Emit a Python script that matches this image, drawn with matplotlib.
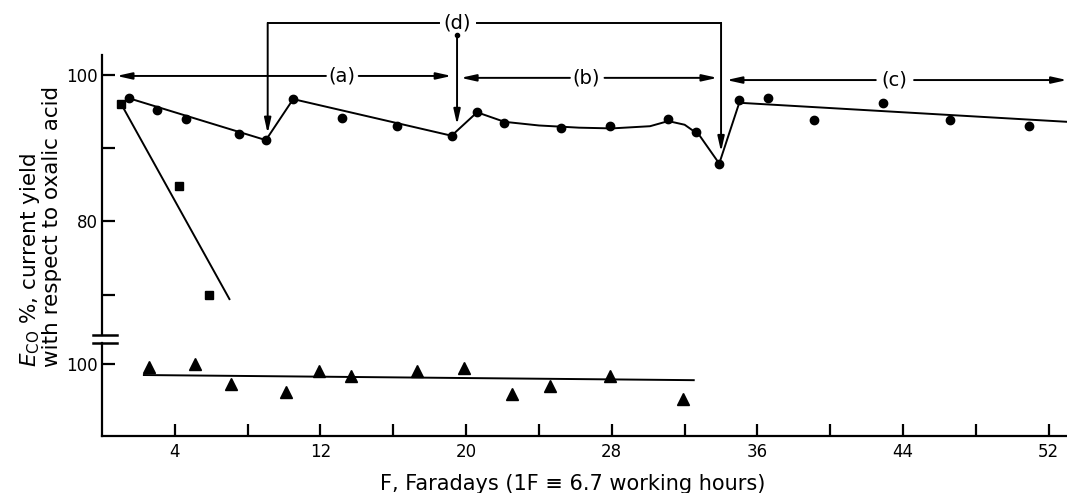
import matplotlib.pyplot as plt
from matplotlib.lines import Line2D

plt.rcParams['font.family'] = ['DejaVu Sans']

# circles (upper panel)
circ_x = [1.5, 3.0, 4.6, 7.5, 9.0, 10.5, 13.2, 16.2, 19.2, 20.6, 22.1, 25.2,
          27.9, 31.1, 32.6, 33.9, 35.0, 36.6, 39.1, 42.9, 46.6, 50.9]
circ_y = [96.8, 95.2, 94.0, 91.9, 91.1, 96.7, 94.1, 93.0, 91.7, 94.9, 93.5, 92.7,
          93.0, 94.0, 92.2, 87.9, 96.6, 96.8, 93.8, 96.2, 93.9, 93.0]
# hand drawn trend through the circles
fit_x = [1.5, 9.0, 10.5, 19.2, 20.6, 22.1, 24.0, 26.2, 28.0, 30.1, 31.1, 32.0, 32.8, 33.9, 35.0, 53.0]
fit_y = [96.8, 91.1, 96.7, 91.7, 94.9, 93.6, 93.1, 92.8, 92.7, 93.0, 93.7, 93.2, 91.8, 87.9, 96.2, 93.6]

# squares (upper panel)
sq_x = [1.06, 4.24, 5.85]
sq_y = [96.0, 84.8, 70.0]
sq_fit_x = [1.06, 7.0]
sq_fit_y = [96.0, 69.4]

# triangles (lower panel)
tri_x = [2.6, 5.1, 7.1, 10.1, 11.9, 13.7, 17.3, 19.9, 22.5, 24.6, 27.9, 31.9]
tri_y = [99.6, 100.0, 97.3, 96.2, 99.1, 98.4, 99.1, 99.4, 95.9, 97.0, 98.3, 95.2]
tri_fit_x = [2.3, 32.5]
tri_fit_y = [98.5, 97.8]

xmaj = [4, 12, 20, 28, 36, 44, 52]
xmin = [8, 16, 24, 32, 40, 48]

fig = plt.figure(figsize=(10.67, 4.93), dpi=100)
L, W = 102 / 1067, 1 - 102 / 1067
ax = fig.add_axes([L, 1 - 335 / 493, W, 280 / 493])
ax2 = fig.add_axes([L, 1 - 436 / 493, W, 93 / 493])

lw_ax = 1.6
for a in (ax, ax2):
    a.set_xlim(0, 53)
    for s in ('top', 'right'):
        a.spines[s].set_visible(False)
    a.spines['left'].set_linewidth(lw_ax)
    a.spines['bottom'].set_linewidth(lw_ax)
    a.tick_params(direction='in', length=9, width=1.6, labelsize=12, pad=3)

ax.spines['bottom'].set_visible(False)
ax.tick_params(axis='x', bottom=False, labelbottom=False)
ax.set_ylim(64.5, 102.72)
ax.set_yticks([70, 80, 90, 100])
ax.set_yticklabels(['', '80', '', '100'])

ax2.set_ylim(90.2, 102.86)
ax2.set_yticks([100])
ax2.set_yticklabels(['100'])
ax2.set_xticks(xmaj)
ax2.set_xticklabels([str(v) for v in xmaj])
ax2.set_xticks(xmin, minor=True)
ax2.tick_params(axis='x', which='minor', direction='in', length=9, width=1.6)
ax2.tick_params(axis='x', pad=5)

# data
ax.plot(fit_x, fit_y, color='black', lw=1.4)
ax.plot(circ_x, circ_y, 'o', color='black', ms=6)
ax.plot(sq_fit_x, sq_fit_y, color='black', lw=1.4)
ax.plot(sq_x, sq_y, 's', color='black', ms=6)
ax2.plot(tri_fit_x, tri_fit_y, color='black', lw=1.4)
ax2.plot(tri_x, tri_y, '^', color='black', ms=8)

# annotations
def arrow(a, x0, y0, x1, y1):
    a.annotate('', xy=(x1, y1), xytext=(x0, y0), annotation_clip=False,
               arrowprops=dict(arrowstyle='-|>,head_length=0.9,head_width=0.2',
                               color='black', lw=1.4, shrinkA=0, shrinkB=0))

ya, yb, yc, yd = 99.86, 99.6, 99.3, 107.1
arrow(ax, 12.3, ya, 0.8, ya)
arrow(ax, 14.1, ya, 19.2, ya)
ax.text(13.2, ya, '(a)', ha='center', va='center', fontsize=14)
arrow(ax, 25.7, yb, 19.7, yb)
arrow(ax, 27.6, yb, 33.8, yb)
ax.text(26.6, yb, '(b)', ha='center', va='center', fontsize=14)
arrow(ax, 42.5, yc, 34.3, yc)
arrow(ax, 44.6, yc, 53.0, yc)
ax.text(43.5, yc, '(c)', ha='center', va='center', fontsize=14)

ax.plot([9.1, 18.5], [yd, yd], color='black', lw=1.4, clip_on=False)
ax.plot([20.6, 34.0], [yd, yd], color='black', lw=1.4, clip_on=False)
ax.text(19.5, yd, '(d)', ha='center', va='center', fontsize=14)
arrow(ax, 9.1, yd, 9.1, 92.0)
arrow(ax, 34.0, yd, 34.0, 89.5)
arrow(ax, 19.5, 105.4, 19.5, 93.2)
ax.plot([19.5], [105.4], 'o', color='black', ms=3, clip_on=False)

# axis break marks
for yp in (335, 343):
    fy = 1 - yp / 493
    fig.add_artist(Line2D([93 / 1067, 117 / 1067], [fy, fy], color='black', lw=1.8))

fig.text(40 / 1067, 1 - 367 / 493, '$E_{\\rm CO}$ %, current yield\nwith respect to oxalic acid',
         rotation=90, ha='center', va='bottom', multialignment='left', fontsize=15.5,
         linespacing=1.05)
fig.text(573 / 1067, 1 - 484 / 493, 'F, Faradays (1F \u2261 6.7 working hours)',
         ha='center', va='center', fontsize=15)

fig.savefig('out.png', dpi=100)
